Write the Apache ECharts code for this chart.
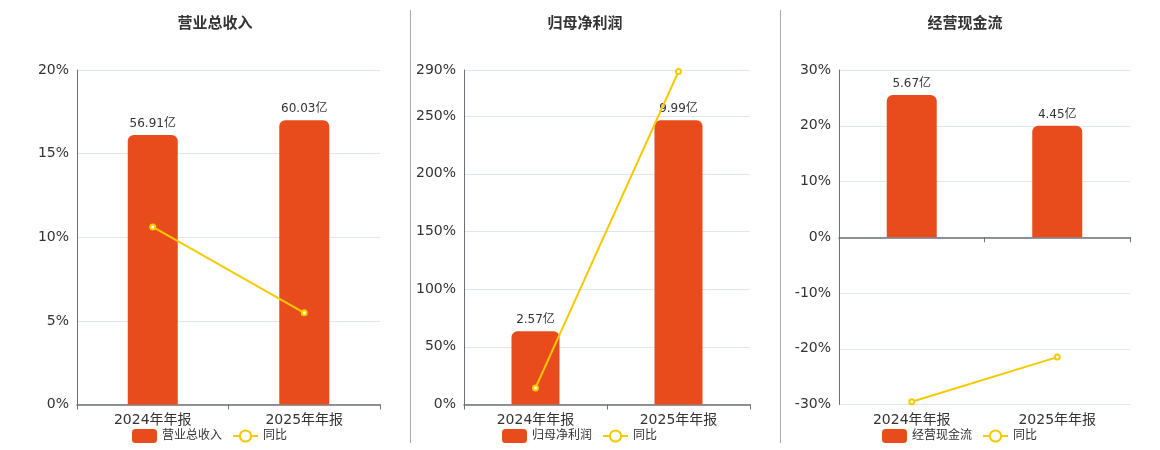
<!DOCTYPE html>
<html>
<head>
<meta charset="utf-8">
<title>财务指标</title>
<script src="https://cdn.jsdelivr.net/npm/echarts@6/dist/echarts.min.js"></script>
<style>
  html, body { margin: 0; padding: 0; background: #fff; }
</style>
</head>
<body>
<div id="main" style="width: 1160px; height: 450px;"></div>
<script type="text/javascript">
// 数据
var categories = ['2024年年报', '2025年年报'];

var revenueName = '营业总收入';
var revenue = [56.91, 60.03];
var revenueYoy = [10.62, 5.48];

var profitName = '归母净利润';
var profit = [2.57, 9.99];
var profitYoy = [14.4, 288.7];

var cashName = '经营现金流';
var cash = [5.67, 4.45];
var cashYoy = [-29.5, -21.5];

// 百分比轴刻度
var revenueAxis = { min: 0, max: 20, interval: 5 };
var profitAxis = { min: 0, max: 290, interval: 50 };
var cashAxis = { min: -30, max: 30, interval: 10 };

var barColor = '#E84C1D';
var lineColor = '#F5CA00';
var font = "'DejaVu Sans', 'Noto Sans CJK SC', sans-serif";

var myChart = echarts.init(document.getElementById('main'));

// 柱子画在隐藏的第二个 y 轴上, 最高柱约占 85%
function barAxisMax(arr) {
  var m = 0;
  for (var i = 0; i < arr.length; i++) m = Math.max(m, Math.abs(arr[i]));
  return m / 0.85;
}

var grids = [
  { left: 77, width: 303, top: 70, height: 334.5 },
  { left: 464, width: 286, top: 70, height: 334.5 },
  { left: 839, width: 291, top: 70, height: 334.5 }
];

function lineAxis(gridIndex, cfg) {
  return {
    type: 'value',
    gridIndex: gridIndex,
    min: cfg.min,
    max: cfg.max,
    interval: cfg.interval,
    axisLine: { show: true, lineStyle: { color: '#6E7079' } },
    axisTick: { show: false },
    axisLabel: { formatter: '{value}%', color: '#333', fontSize: 14, fontFamily: font, verticalAlign: 'middle', padding: [2, 0, 0, 0] },
    splitLine: { lineStyle: { color: '#E0E6F1' } }
  };
}

function hiddenAxis(gridIndex, arr, symmetric) {
  var m = barAxisMax(arr);
  return {
    type: 'value',
    gridIndex: gridIndex,
    min: symmetric ? -m : 0,
    max: m,
    show: false,
    splitLine: { show: false }
  };
}

function catAxis(gridIndex, opts) {
  var a = {
    type: 'category',
    gridIndex: gridIndex,
    data: categories,
    axisLine: { show: true, lineStyle: { color: '#6E7079', width: 1.5 } },
    axisTick: { show: true, lineStyle: { color: '#6E7079' } },
    axisLabel: { color: '#333', fontSize: 14, margin: 9, fontFamily: font }
  };
  for (var k in opts) a[k] = opts[k];
  return a;
}

function barSeries(name, data, xi, yi, width) {
  return {
    name: name,
    type: 'bar',
    xAxisIndex: xi,
    yAxisIndex: yi,
    data: data,
    barWidth: width,
    itemStyle: { color: barColor, borderRadius: [6, 6, 0, 0] },
    label: {
      show: true,
      position: 'top',
      distance: 5,
      color: '#333',
      fontSize: 12,
      fontFamily: font,
      formatter: function (p) { return p.value.toFixed(2) + '亿'; }
    }
  };
}

function lineSeries(data, xi, yi) {
  return {
    name: '同比',
    type: 'line',
    xAxisIndex: xi,
    yAxisIndex: yi,
    data: data,
    symbol: 'emptyCircle',
    symbolSize: 5,
    itemStyle: { color: lineColor },
    lineStyle: { color: lineColor, width: 2 },
    z: 5
  };
}

function title(text, x) {
  return {
    text: text,
    left: x,
    top: 12,
    textAlign: 'center',
    textStyle: { fontSize: 15, fontWeight: 'bold', color: '#333', fontFamily: font }
  };
}

function legend(name, x) {
  return {
    data: [name, '同比'],
    left: x,
    top: 429,
    padding: 0,
    itemGap: 10,
    itemWidth: 25,
    itemHeight: 14,
    textStyle: { fontSize: 12, color: '#333', fontFamily: font }
  };
}

var option = {
  backgroundColor: '#fff',
  animation: false,
  textStyle: { fontFamily: font },
  title: [
    title(revenueName, 210),
    title(profitName, 580),
    title(cashName, 960)
  ],
  legend: [
    legend(revenueName, 132),
    legend(profitName, 502),
    legend(cashName, 882)
  ],
  grid: grids,
  xAxis: [
    catAxis(0, {}),
    catAxis(1, {}),
    // 现金流: 轴线在零位, 标签在底部
    catAxis(2, {
      axisLine: { show: true, onZero: true, onZeroAxisIndex: 4, lineStyle: { color: '#6E7079', width: 1.5 } },
      axisLabel: { show: false }
    }),
    catAxis(2, {
      position: 'bottom',
      axisLine: { show: false, onZero: false },
      axisTick: { show: false }
    })
  ],
  yAxis: [
    lineAxis(0, revenueAxis),
    hiddenAxis(0, revenue, false),
    lineAxis(1, profitAxis),
    hiddenAxis(1, profit, false),
    lineAxis(2, cashAxis),
    hiddenAxis(2, cash, true)
  ],
  series: [
    barSeries(revenueName, revenue, 0, 1, 50),
    lineSeries(revenueYoy, 0, 0),
    barSeries(profitName, profit, 1, 3, 48),
    lineSeries(profitYoy, 1, 2),
    barSeries(cashName, cash, 2, 5, 50),
    lineSeries(cashYoy, 2, 4)
  ],
  graphic: [
    { type: 'line', shape: { x1: 410.5, y1: 10, x2: 410.5, y2: 443 }, style: { stroke: '#aaa', lineWidth: 1 } },
    { type: 'line', shape: { x1: 780.5, y1: 10, x2: 780.5, y2: 443 }, style: { stroke: '#aaa', lineWidth: 1 } }
  ]
};

myChart.setOption(option);
</script>
</body>
</html>
